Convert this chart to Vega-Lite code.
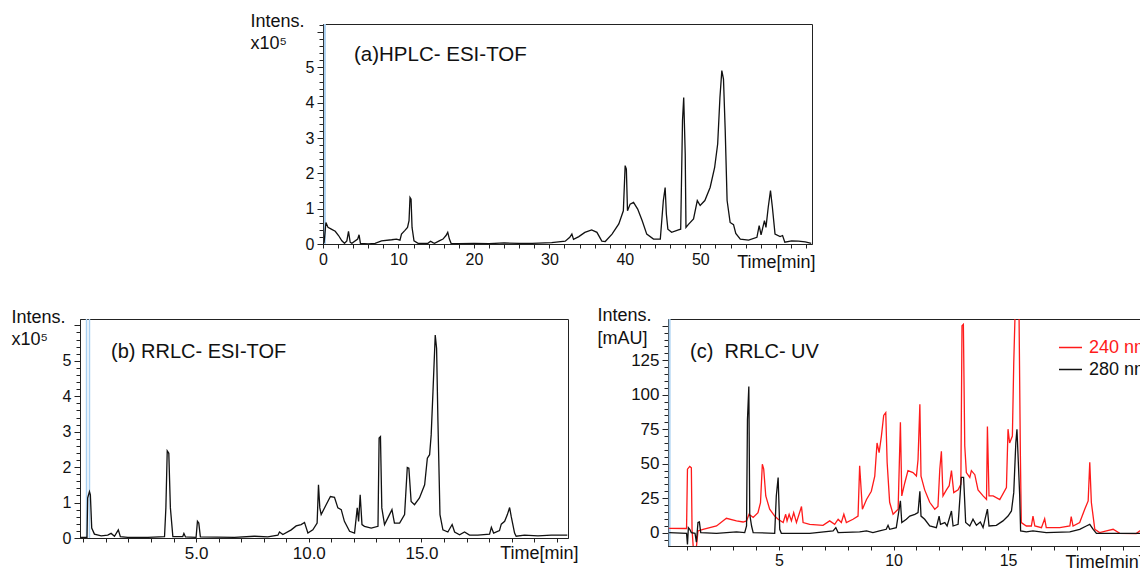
{
  "$schema": "https://vega.github.io/schema/vega-lite/v6.json",
  "background": "white",
  "padding": {"left": 10, "top": 11, "right": 0, "bottom": 0},
  "config": {
    "font": "Liberation Sans",
    "view": {"stroke": "#222", "strokeWidth": 1},
    "axis": {"grid": false, "domainColor": "#222", "tickColor": "#222", "labelColor": "#111", "titleColor": "#111", "labelFont": "Liberation Sans", "titleFont": "Liberation Sans", "titleFontWeight": "normal", "labelOverlap": false, "labelFlush": false}
  },
  "spacing": 33,
  "resolve": {"scale": {"color": "independent"}, "legend": {"color": "independent"}},
  "vconcat": [
    {
      "spacing": 0,
      "hconcat": [
        {
          "width": 169, "height": 10,
          "view": {"stroke": null},
          "data": {"values": [{"k": 1}]},
          "mark": {"type": "point", "opacity": 0},
          "encoding": {}
        },
        {
          "width": 489, "height": 220,
          "title": {"text": "(a)HPLC- ESI-TOF", "anchor": "start", "frame": "group", "offset": -53, "dx": 31, "fontSize": 20.5, "fontWeight": "normal", "color": "#111"},
          "data": {"values": [
            {"t":0,"v":0},{"t":0.15,"v":0.05},{"t":0.39,"v":0.61},{"t":0.66,"v":0.47},{"t":1.1,"v":0.42},{"t":1.62,"v":0.36},{"t":2.06,"v":0.24},{"t":2.5,"v":0.09},{"t":2.85,"v":0.02},{"t":3.16,"v":0.09},{"t":3.38,"v":0.36},{"t":3.6,"v":0.05},{"t":3.82,"v":0.02},{"t":4.6,"v":0.14},{"t":4.78,"v":0.26},{"t":4.96,"v":0.02},{"t":6.0,"v":0},{"t":6.9,"v":0.02},{"t":7.76,"v":0.09},{"t":9.1,"v":0.12},{"t":9.74,"v":0.14},{"t":10.2,"v":0.11},{"t":10.4,"v":0.28},{"t":10.83,"v":0.38},{"t":11.2,"v":0.47},{"t":11.4,"v":0.66},{"t":11.53,"v":1.32},{"t":11.67,"v":1.27},{"t":11.8,"v":0.47},{"t":12.06,"v":0.09},{"t":12.6,"v":0.02},{"t":13.9,"v":0.02},{"t":14.25,"v":0.08},{"t":14.56,"v":0.04},{"t":14.78,"v":0.02},{"t":15.4,"v":0.09},{"t":15.9,"v":0.14},{"t":16.3,"v":0.24},{"t":16.53,"v":0.33},{"t":16.75,"v":0.14},{"t":16.97,"v":0.02},{"t":18,"v":0.01},{"t":20,"v":0.02},{"t":22,"v":0.01},{"t":24,"v":0.03},{"t":26,"v":0.02},{"t":27.7,"v":0.02},{"t":30.3,"v":0.04},{"t":32.1,"v":0.08},{"t":32.7,"v":0.19},{"t":32.98,"v":0.28},{"t":33.2,"v":0.13},{"t":33.9,"v":0.21},{"t":34.7,"v":0.33},{"t":35.6,"v":0.4},{"t":36.3,"v":0.33},{"t":36.95,"v":0.08},{"t":37.4,"v":0.07},{"t":38.3,"v":0.28},{"t":39.2,"v":0.57},{"t":39.8,"v":0.94},{"t":40.04,"v":2.22},{"t":40.2,"v":2.12},{"t":40.35,"v":0.94},{"t":40.7,"v":1.13},{"t":41.15,"v":1.18},{"t":41.7,"v":0.99},{"t":42.3,"v":0.66},{"t":42.9,"v":0.28},{"t":43.8,"v":0.14},{"t":44.7,"v":0.14},{"t":45.1,"v":1.23},{"t":45.34,"v":1.6},{"t":45.5,"v":0.85},{"t":45.7,"v":0.42},{"t":46.2,"v":0.33},{"t":47.1,"v":0.4},{"t":47.4,"v":0.42},{"t":47.64,"v":3.49},{"t":47.8,"v":4.15},{"t":48.0,"v":2.55},{"t":48.1,"v":0.47},{"t":48.4,"v":0.55},{"t":49.1,"v":0.71},{"t":49.6,"v":1.23},{"t":49.98,"v":1.09},{"t":50.6,"v":1.23},{"t":51.3,"v":1.6},{"t":51.9,"v":2.17},{"t":52.3,"v":2.83},{"t":52.6,"v":4.15},{"t":52.85,"v":4.91},{"t":53.07,"v":4.67},{"t":53.3,"v":3.21},{"t":53.55,"v":1.23},{"t":53.95,"v":0.61},{"t":54.4,"v":0.55},{"t":54.7,"v":0.3},{"t":55.3,"v":0.14},{"t":56.4,"v":0.11},{"t":57.5,"v":0.19},{"t":57.8,"v":0.52},{"t":58.05,"v":0.26},{"t":58.5,"v":0.66},{"t":58.7,"v":0.47},{"t":59.0,"v":1.04},{"t":59.3,"v":1.51},{"t":59.55,"v":1.04},{"t":59.9,"v":0.28},{"t":60.57,"v":0.21},{"t":60.9,"v":0.24},{"t":61.2,"v":0.05},{"t":62.1,"v":0.09},{"t":63.0,"v":0.08},{"t":63.9,"v":0.06},{"t":64.7,"v":0.02}
          ]},
          "encoding": {
            "x": {"field": "t", "type": "quantitative",
              "scale": {"domain": [0, 64.8], "nice": false, "zero": false},
              "axis": {"values": [0,2,4,6,8,10,12,14,16,18,20,22,24,26,28,30,32,34,36,38,40,42,44,46,48,50,52,54,56,58,60,62,64],
                "format": ".0f",
                "labelExpr": "datum.value % 10 === 0 && datum.value <= 50 ? datum.label : ''",
                "tickSize": 4, "labelFontSize": 16, "labelPadding": 3,
                "title": "Time[min]", "titleFontSize": 18, "titleAlign": "right", "titleBaseline": "middle", "titleX": 492, "titleY": 18}}
          },
          "layer": [
            {"data": {"values": [{"t": 0.25}]}, "mark": {"type": "rule", "color": "#a9d0f2", "strokeWidth": 2}, "encoding": {}},
            {"mark": {"type": "line", "color": "#111", "strokeWidth": 1.3, "clip": true},
             "encoding": {"y": {"field": "v", "type": "quantitative",
               "scale": {"domain": [0, 6.23], "nice": false, "zero": false},
               "axis": {"values": [0,0.2,0.4,0.6,0.8,1,1.2,1.4,1.6,1.8,2,2.2,2.4,2.6,2.8,3,3.2,3.4,3.6,3.8,4,4.2,4.4,4.6,4.8,5,5.2,5.4,5.6,5.8,6,6.2],
                 "format": ".0f",
                 "labelExpr": "datum.value % 1 === 0 && datum.value <= 5 ? datum.label : ''",
                 "tickSize": {"condition": {"test": "datum.value % 1 === 0", "value": 6}, "value": 4},
                 "labelFontSize": 16, "labelPadding": 3,
                 "title": ["Intens.", "\u00a0\u00a0\u00a0x10\u2075"], "titleAngle": 0, "titleAlign": "left", "titleBaseline": "top", "titleX": -73, "titleY": -12, "titleFontSize": 18, "titleLineHeight": 22}}}}
          ]
        }
      ]
    },
    {
      "spacing": 17,
      "resolve": {"scale": {"color": "independent"}, "legend": {"color": "independent"}},
      "hconcat": [
        {
          "width": 488, "height": 219,
          "title": {"text": "(b) RRLC- ESI-TOF", "anchor": "start", "frame": "group", "offset": -54, "dx": 31, "fontSize": 20, "fontWeight": "normal", "color": "#111"},
          "data": {"values": [
            {"t":-0.15,"v":0.02},{"t":0.12,"v":0.02},{"t":0.16,"v":0},{"t":0.19,"v":1.13},{"t":0.27,"v":1.31},{"t":0.31,"v":1.22},{"t":0.37,"v":0.28},{"t":0.49,"v":0.11},{"t":0.79,"v":0.06},{"t":1.08,"v":0.08},{"t":1.23,"v":0.13},{"t":1.38,"v":0.05},{"t":1.55,"v":0.23},{"t":1.64,"v":0.04},{"t":1.97,"v":0.02},{"t":2.86,"v":0.02},{"t":3.6,"v":0.04},{"t":3.66,"v":0.85},{"t":3.72,"v":2.46},{"t":3.79,"v":2.39},{"t":3.86,"v":0.85},{"t":3.97,"v":0.04},{"t":4.41,"v":0.04},{"t":4.46,"v":0.13},{"t":4.53,"v":0.03},{"t":5.0,"v":0.02},{"t":5.06,"v":0.47},{"t":5.12,"v":0.42},{"t":5.19,"v":0.03},{"t":6.7,"v":0.02},{"t":7.59,"v":0.05},{"t":8.18,"v":0.03},{"t":8.63,"v":0.08},{"t":8.7,"v":0.17},{"t":8.85,"v":0.1},{"t":9.22,"v":0.23},{"t":9.44,"v":0.34},{"t":9.66,"v":0.38},{"t":9.81,"v":0.44},{"t":9.96,"v":0.14},{"t":10.18,"v":0.23},{"t":10.37,"v":0.42},{"t":10.43,"v":1.5},{"t":10.49,"v":0.85},{"t":10.55,"v":0.66},{"t":10.77,"v":0.94},{"t":10.96,"v":1.17},{"t":11.14,"v":1.15},{"t":11.29,"v":0.85},{"t":11.44,"v":0.8},{"t":11.58,"v":0.47},{"t":11.81,"v":0.19},{"t":12.03,"v":0.14},{"t":12.15,"v":0.85},{"t":12.21,"v":0.47},{"t":12.28,"v":1.22},{"t":12.36,"v":0.38},{"t":12.47,"v":0.33},{"t":12.77,"v":0.28},{"t":13.07,"v":0.33},{"t":13.12,"v":2.82},{"t":13.18,"v":2.86},{"t":13.24,"v":0.85},{"t":13.36,"v":0.38},{"t":13.58,"v":0.66},{"t":13.69,"v":0.8},{"t":13.8,"v":0.42},{"t":14.03,"v":0.42},{"t":14.25,"v":0.66},{"t":14.37,"v":1.99},{"t":14.44,"v":1.97},{"t":14.54,"v":1.03},{"t":14.69,"v":0.94},{"t":14.91,"v":1.13},{"t":15.14,"v":1.5},{"t":15.26,"v":2.25},{"t":15.36,"v":2.35},{"t":15.43,"v":2.91},{"t":15.51,"v":4.13},{"t":15.61,"v":5.73},{"t":15.67,"v":5.35},{"t":15.73,"v":3.29},{"t":15.82,"v":0.66},{"t":15.95,"v":0.23},{"t":16.17,"v":0.17},{"t":16.36,"v":0.38},{"t":16.47,"v":0.17},{"t":16.69,"v":0.09},{"t":16.91,"v":0.17},{"t":17.13,"v":0.08},{"t":17.5,"v":0.08},{"t":18.02,"v":0.11},{"t":18.1,"v":0.3},{"t":18.2,"v":0.14},{"t":18.46,"v":0.21},{"t":18.54,"v":0.39},{"t":18.69,"v":0.47},{"t":18.81,"v":0.66},{"t":18.91,"v":0.86},{"t":18.98,"v":0.61},{"t":19.13,"v":0.14},{"t":19.2,"v":0.05},{"t":19.57,"v":0.08},{"t":20.17,"v":0.06},{"t":20.76,"v":0.08},{"t":21.47,"v":0.08}
          ]},
          "encoding": {
            "x": {"field": "t", "type": "quantitative",
              "scale": {"domain": [-0.15, 21.5], "nice": false, "zero": false},
              "axis": {"values": [0,1,2,3,4,5,6,7,8,9,10,11,12,13,14,15,16,17,18,19,20,21],
                "format": ".1f",
                "labelExpr": "datum.value % 5 === 0 && datum.value > 0 && datum.value < 20 ? datum.label : ''",
                "tickSize": 4, "labelFontSize": 17, "labelPadding": 3,
                "title": "Time[min]", "titleFontSize": 18, "titleAlign": "right", "titleBaseline": "middle", "titleX": 498, "titleY": 15}}
          },
          "layer": [
            {"data": {"values": [{"t": 0.14}, {"t": 0.27}]}, "mark": {"type": "rule", "color": "#a9d0f2", "strokeWidth": 1.5}, "encoding": {}},
            {"mark": {"type": "line", "color": "#111", "strokeWidth": 1.3, "clip": true},
             "encoding": {"y": {"field": "v", "type": "quantitative",
               "scale": {"domain": [0, 6.18], "nice": false, "zero": false},
               "axis": {"values": [0,0.2,0.4,0.6,0.8,1,1.2,1.4,1.6,1.8,2,2.2,2.4,2.6,2.8,3,3.2,3.4,3.6,3.8,4,4.2,4.4,4.6,4.8,5,5.2,5.4,5.6,5.8,6],
                 "format": ".0f",
                 "labelExpr": "datum.value % 1 === 0 && datum.value <= 5 ? datum.label : ''",
                 "tickSize": {"condition": {"test": "datum.value % 1 === 0", "value": 6}, "value": 4},
                 "labelFontSize": 16, "labelPadding": 3,
                 "title": ["Intens.", "\u00a0\u00a0\u00a0x10\u2075"], "titleAngle": 0, "titleAlign": "left", "titleBaseline": "top", "titleX": -69, "titleY": -11, "titleFontSize": 18, "titleLineHeight": 22}}}}
          ]
        },
        {
          "width": 490, "height": 227,
          "title": {"text": "(c)\u00a0 RRLC- UV", "anchor": "start", "frame": "group", "offset": -56, "dx": 22, "fontSize": 20, "fontWeight": "normal", "color": "#111"},
          "data": {"values": [
            {"wl":"240 nm","t":0.2,"v":3.1},{"wl":"240 nm","t":0.96,"v":3},{"wl":"240 nm","t":1.0,"v":46},{"wl":"240 nm","t":1.1,"v":48},{"wl":"240 nm","t":1.17,"v":47},{"wl":"240 nm","t":1.2,"v":2.4},{"wl":"240 nm","t":1.25,"v":-10},{"wl":"240 nm","t":1.39,"v":-10.5},{"wl":"240 nm","t":1.46,"v":1.2},{"wl":"240 nm","t":1.68,"v":2.4},{"wl":"240 nm","t":2.27,"v":4.8},{"wl":"240 nm","t":2.7,"v":10.4},{"wl":"240 nm","t":3.14,"v":8.5},{"wl":"240 nm","t":3.43,"v":7.7},{"wl":"240 nm","t":3.58,"v":8.5},{"wl":"240 nm","t":3.69,"v":13.3},{"wl":"240 nm","t":3.87,"v":11},{"wl":"240 nm","t":4.08,"v":14.5},{"wl":"240 nm","t":4.19,"v":21.8},{"wl":"240 nm","t":4.27,"v":49.6},{"wl":"240 nm","t":4.33,"v":46},{"wl":"240 nm","t":4.42,"v":26.6},{"wl":"240 nm","t":4.59,"v":17},{"wl":"240 nm","t":4.81,"v":12},{"wl":"240 nm","t":4.96,"v":9.7},{"wl":"240 nm","t":5.18,"v":7.3},{"wl":"240 nm","t":5.29,"v":13.3},{"wl":"240 nm","t":5.35,"v":8.5},{"wl":"240 nm","t":5.44,"v":13.3},{"wl":"240 nm","t":5.54,"v":8.5},{"wl":"240 nm","t":5.64,"v":14.5},{"wl":"240 nm","t":5.76,"v":7.3},{"wl":"240 nm","t":5.98,"v":18.9},{"wl":"240 nm","t":6.05,"v":7.3},{"wl":"240 nm","t":6.34,"v":6},{"wl":"240 nm","t":6.92,"v":5.3},{"wl":"240 nm","t":7.21,"v":8.5},{"wl":"240 nm","t":7.43,"v":6},{"wl":"240 nm","t":7.58,"v":9.7},{"wl":"240 nm","t":7.72,"v":7.3},{"wl":"240 nm","t":7.83,"v":13.3},{"wl":"240 nm","t":7.94,"v":7.3},{"wl":"240 nm","t":8.23,"v":9.7},{"wl":"240 nm","t":8.45,"v":12},{"wl":"240 nm","t":8.52,"v":48.4},{"wl":"240 nm","t":8.64,"v":17},{"wl":"240 nm","t":8.82,"v":24},{"wl":"240 nm","t":9.03,"v":30},{"wl":"240 nm","t":9.18,"v":41},{"wl":"240 nm","t":9.28,"v":65},{"wl":"240 nm","t":9.37,"v":58},{"wl":"240 nm","t":9.47,"v":70},{"wl":"240 nm","t":9.57,"v":85},{"wl":"240 nm","t":9.66,"v":87},{"wl":"240 nm","t":9.72,"v":51},{"wl":"240 nm","t":9.83,"v":22},{"wl":"240 nm","t":9.98,"v":13.3},{"wl":"240 nm","t":10.2,"v":17},{"wl":"240 nm","t":10.3,"v":80},{"wl":"240 nm","t":10.36,"v":26.6},{"wl":"240 nm","t":10.49,"v":36},{"wl":"240 nm","t":10.63,"v":45},{"wl":"240 nm","t":10.85,"v":43.5},{"wl":"240 nm","t":11.0,"v":41},{"wl":"240 nm","t":11.07,"v":53},{"wl":"240 nm","t":11.15,"v":93},{"wl":"240 nm","t":11.2,"v":41},{"wl":"240 nm","t":11.36,"v":31},{"wl":"240 nm","t":11.58,"v":22},{"wl":"240 nm","t":11.8,"v":17},{"wl":"240 nm","t":11.94,"v":19},{"wl":"240 nm","t":12.02,"v":46},{"wl":"240 nm","t":12.09,"v":59},{"wl":"240 nm","t":12.16,"v":26.6},{"wl":"240 nm","t":12.31,"v":31},{"wl":"240 nm","t":12.43,"v":34},{"wl":"240 nm","t":12.53,"v":45},{"wl":"240 nm","t":12.63,"v":29},{"wl":"240 nm","t":12.82,"v":31},{"wl":"240 nm","t":12.94,"v":35},{"wl":"240 nm","t":12.99,"v":150},{"wl":"240 nm","t":13.05,"v":151},{"wl":"240 nm","t":13.11,"v":63},{"wl":"240 nm","t":13.18,"v":43.5},{"wl":"240 nm","t":13.33,"v":40},{"wl":"240 nm","t":13.4,"v":45},{"wl":"240 nm","t":13.55,"v":42},{"wl":"240 nm","t":13.69,"v":31},{"wl":"240 nm","t":13.91,"v":26.6},{"wl":"240 nm","t":14.06,"v":24},{"wl":"240 nm","t":14.1,"v":77},{"wl":"240 nm","t":14.17,"v":26.6},{"wl":"240 nm","t":14.35,"v":26.6},{"wl":"240 nm","t":14.64,"v":24},{"wl":"240 nm","t":14.93,"v":32.6},{"wl":"240 nm","t":15.0,"v":75},{"wl":"240 nm","t":15.07,"v":65},{"wl":"240 nm","t":15.19,"v":70},{"wl":"240 nm","t":15.25,"v":123},{"wl":"240 nm","t":15.31,"v":160},{"wl":"240 nm","t":15.48,"v":160},{"wl":"240 nm","t":15.54,"v":56},{"wl":"240 nm","t":15.58,"v":7.3},{"wl":"240 nm","t":15.8,"v":4.8},{"wl":"240 nm","t":16.02,"v":4.8},{"wl":"240 nm","t":16.09,"v":12},{"wl":"240 nm","t":16.17,"v":4.8},{"wl":"240 nm","t":16.46,"v":3.6},{"wl":"240 nm","t":16.6,"v":10},{"wl":"240 nm","t":16.67,"v":3.6},{"wl":"240 nm","t":17.26,"v":3.6},{"wl":"240 nm","t":17.7,"v":4.8},{"wl":"240 nm","t":17.76,"v":11.6},{"wl":"240 nm","t":17.84,"v":4.8},{"wl":"240 nm","t":18.13,"v":7.3},{"wl":"240 nm","t":18.35,"v":17},{"wl":"240 nm","t":18.5,"v":23},{"wl":"240 nm","t":18.57,"v":51},{"wl":"240 nm","t":18.64,"v":21.8},{"wl":"240 nm","t":18.79,"v":2.4},{"wl":"240 nm","t":19.0,"v":0},{"wl":"240 nm","t":19.3,"v":1.2},{"wl":"240 nm","t":19.59,"v":2.4},{"wl":"240 nm","t":19.88,"v":-0.5},{"wl":"240 nm","t":20.6,"v":-0.7},{"wl":"240 nm","t":20.75,"v":1.2},{"wl":"240 nm","t":21.5,"v":0},
            {"wl":"280 nm","t":0.2,"v":0},{"wl":"280 nm","t":0.96,"v":-0.5},{"wl":"280 nm","t":1.0,"v":-8.5},{"wl":"280 nm","t":1.04,"v":3.6},{"wl":"280 nm","t":1.1,"v":2.4},{"wl":"280 nm","t":1.17,"v":0},{"wl":"280 nm","t":1.33,"v":-0.5},{"wl":"280 nm","t":1.39,"v":-7},{"wl":"280 nm","t":1.46,"v":7.3},{"wl":"280 nm","t":1.52,"v":7.7},{"wl":"280 nm","t":1.58,"v":0},{"wl":"280 nm","t":2.27,"v":-0.5},{"wl":"280 nm","t":3.14,"v":0.5},{"wl":"280 nm","t":3.5,"v":0},{"wl":"280 nm","t":3.58,"v":4.8},{"wl":"280 nm","t":3.62,"v":82},{"wl":"280 nm","t":3.68,"v":106},{"wl":"280 nm","t":3.72,"v":13.3},{"wl":"280 nm","t":3.8,"v":4.8},{"wl":"280 nm","t":3.87,"v":0},{"wl":"280 nm","t":4.81,"v":-0.5},{"wl":"280 nm","t":4.88,"v":26.6},{"wl":"280 nm","t":4.96,"v":40},{"wl":"280 nm","t":5.03,"v":2.4},{"wl":"280 nm","t":5.1,"v":-0.5},{"wl":"280 nm","t":6.34,"v":-0.5},{"wl":"280 nm","t":7.36,"v":1.2},{"wl":"280 nm","t":7.48,"v":3.6},{"wl":"280 nm","t":7.58,"v":0},{"wl":"280 nm","t":8.52,"v":0.5},{"wl":"280 nm","t":8.82,"v":1.2},{"wl":"280 nm","t":9.1,"v":0},{"wl":"280 nm","t":9.39,"v":1.2},{"wl":"280 nm","t":9.68,"v":2.4},{"wl":"280 nm","t":9.76,"v":5.3},{"wl":"280 nm","t":9.83,"v":2.4},{"wl":"280 nm","t":10.12,"v":3.6},{"wl":"280 nm","t":10.3,"v":23},{"wl":"280 nm","t":10.36,"v":7.3},{"wl":"280 nm","t":10.56,"v":9.7},{"wl":"280 nm","t":10.71,"v":12},{"wl":"280 nm","t":10.93,"v":13.3},{"wl":"280 nm","t":11.07,"v":14.5},{"wl":"280 nm","t":11.15,"v":30},{"wl":"280 nm","t":11.2,"v":12},{"wl":"280 nm","t":11.36,"v":9.7},{"wl":"280 nm","t":11.58,"v":4.8},{"wl":"280 nm","t":11.87,"v":3.6},{"wl":"280 nm","t":11.99,"v":12},{"wl":"280 nm","t":12.05,"v":6},{"wl":"280 nm","t":12.24,"v":7.3},{"wl":"280 nm","t":12.34,"v":4.8},{"wl":"280 nm","t":12.53,"v":15.7},{"wl":"280 nm","t":12.6,"v":4.8},{"wl":"280 nm","t":12.82,"v":6},{"wl":"280 nm","t":12.96,"v":40},{"wl":"280 nm","t":13.06,"v":40},{"wl":"280 nm","t":13.15,"v":7.3},{"wl":"280 nm","t":13.33,"v":4.8},{"wl":"280 nm","t":13.47,"v":9.7},{"wl":"280 nm","t":13.62,"v":5.3},{"wl":"280 nm","t":13.79,"v":7.7},{"wl":"280 nm","t":13.91,"v":3.6},{"wl":"280 nm","t":14.1,"v":17},{"wl":"280 nm","t":14.17,"v":4.8},{"wl":"280 nm","t":14.49,"v":5.3},{"wl":"280 nm","t":14.78,"v":8.5},{"wl":"280 nm","t":15.0,"v":12},{"wl":"280 nm","t":15.15,"v":15.7},{"wl":"280 nm","t":15.25,"v":29},{"wl":"280 nm","t":15.34,"v":65},{"wl":"280 nm","t":15.39,"v":75},{"wl":"280 nm","t":15.45,"v":51},{"wl":"280 nm","t":15.51,"v":26.6},{"wl":"280 nm","t":15.55,"v":1.2},{"wl":"280 nm","t":15.8,"v":0.5},{"wl":"280 nm","t":16.09,"v":1.2},{"wl":"280 nm","t":16.67,"v":0},{"wl":"280 nm","t":17.7,"v":0.5},{"wl":"280 nm","t":18.13,"v":2.4},{"wl":"280 nm","t":18.42,"v":4.8},{"wl":"280 nm","t":18.57,"v":6},{"wl":"280 nm","t":18.72,"v":2.4},{"wl":"280 nm","t":18.86,"v":-0.5},{"wl":"280 nm","t":19.59,"v":-0.5},{"wl":"280 nm","t":20.75,"v":-0.5},{"wl":"280 nm","t":21.5,"v":-0.5}
          ]},
          "encoding": {
            "x": {"field": "t", "type": "quantitative",
              "scale": {"domain": [0.15, 21.55], "nice": false, "zero": false},
              "axis": {"values": [1,2,3,4,5,6,7,8,9,10,11,12,13,14,15,16,17,18,19,20,21],
                "format": ".0f",
                "labelExpr": "datum.value % 5 === 0 && datum.value < 20 ? datum.label : ''",
                "tickSize": 4, "labelFontSize": 16, "labelPadding": 2,
                "title": "Time[min]", "titleFontSize": 18, "titleAlign": "left", "titleBaseline": "middle", "titleX": 397, "titleY": 16}}
          },
          "layer": [
            {"data": {"values": [{"t": 0.22}]}, "mark": {"type": "rule", "color": "#a9d0f2", "strokeWidth": 2}, "encoding": {}},
            {"mark": {"type": "line", "strokeWidth": 1.3, "clip": true},
             "encoding": {
               "y": {"field": "v", "type": "quantitative",
                 "scale": {"domain": [-9.7, 154.9], "nice": false, "zero": false},
                 "axis": {"values": [-5,0,5,10,15,20,25,30,35,40,45,50,55,60,65,70,75,80,85,90,95,100,105,110,115,120,125,130,135,140,145,150],
                   "format": ".0f",
                   "labelExpr": "datum.value % 25 === 0 && datum.value >= 0 && datum.value <= 125 ? datum.label : ''",
                   "tickSize": {"condition": {"test": "datum.value % 25 === 0", "value": 6}, "value": 4},
                   "labelFontSize": 17, "labelPadding": 3,
                   "title": ["Intens.", "\u00a0\u00a0[mAU]"], "titleAngle": 0, "titleAlign": "left", "titleBaseline": "top", "titleX": -71, "titleY": -13, "titleFontSize": 18, "titleLineHeight": 23}},
               "color": {"field": "wl", "type": "nominal",
                 "scale": {"domain": ["240 nm", "280 nm"], "range": ["#ff1a1a", "#111111"]},
                 "legend": {"orient": "none", "legendX": 390, "legendY": 16, "title": null, "symbolType": "stroke", "symbolSize": 530, "symbolStrokeWidth": 1.5, "labelFontSize": 18, "labelOffset": 6, "rowPadding": 0, "padding": 0,
                   "labelColor": {"expr": "datum.label === '240 nm' ? '#ff1a1a' : '#111111'"}}}
             }}
          ]
        }
      ]
    }
  ]
}
